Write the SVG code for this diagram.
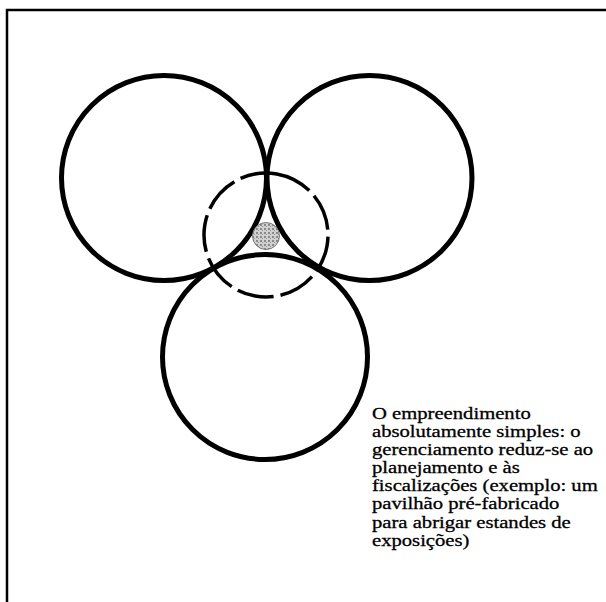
<svg xmlns="http://www.w3.org/2000/svg" width="606" height="602" viewBox="0 0 606 602">
  <style>
    .ring { fill: none; stroke: #000; stroke-width: 5; }
    .dash { fill: none; stroke: #000; stroke-width: 3.5; stroke-dasharray: 37 7; }
    .frame { fill: none; stroke: #000; stroke-width: 2.5; }
    .label { font-family: "Liberation Serif", "Times New Roman", serif; font-size: 17.5px; fill: #000; stroke: #000; stroke-width: 0.3; }
  </style>
  <defs>
    <pattern id="stipple" width="4" height="4" patternUnits="userSpaceOnUse">
      <rect width="4" height="4" fill="#d0d0d0"/>
      <rect x="0" y="0" width="2" height="2" fill="#8a8a8a"/>
      <rect x="2" y="2" width="1" height="1" fill="#9a9a9a"/>
    </pattern>
  </defs>
  <rect width="606" height="602" fill="#fff"/>
  <path class="frame" d="M7,602 V10 H606"/>
  <g id="circle-left"><circle class="ring" cx="164" cy="178" r="102.5"/></g>
  <g id="circle-right"><circle class="ring" cx="369.5" cy="178" r="102.5"/></g>
  <g id="circle-bottom"><circle class="ring" cx="265" cy="357" r="102.5"/></g>
  <g id="circle-dashed"><circle class="dash" cx="266" cy="235" r="62" transform="rotate(-80 266 235)"/></g>
  <g id="core"><circle cx="266" cy="236" r="13.5" fill="url(#stipple)" stroke="#777" stroke-width="1"/></g>
  <g id="caption" transform="translate(372 0) scale(1.18 1)">
    <text class="label">
      <tspan x="0" y="419">O empreendimento</tspan>
      <tspan x="0" y="437.1">absolutamente simples: o</tspan>
      <tspan x="0" y="455.2">gerenciamento reduz-se ao</tspan>
      <tspan x="0" y="473.3">planejamento e às</tspan>
      <tspan x="0" y="491.4">fiscalizações (exemplo: um</tspan>
      <tspan x="0" y="509.5">pavilhão pré-fabricado</tspan>
      <tspan x="0" y="527.6">para abrigar estandes de</tspan>
      <tspan x="0" y="545.7">exposições)</tspan>
    </text>
  </g>
</svg>
